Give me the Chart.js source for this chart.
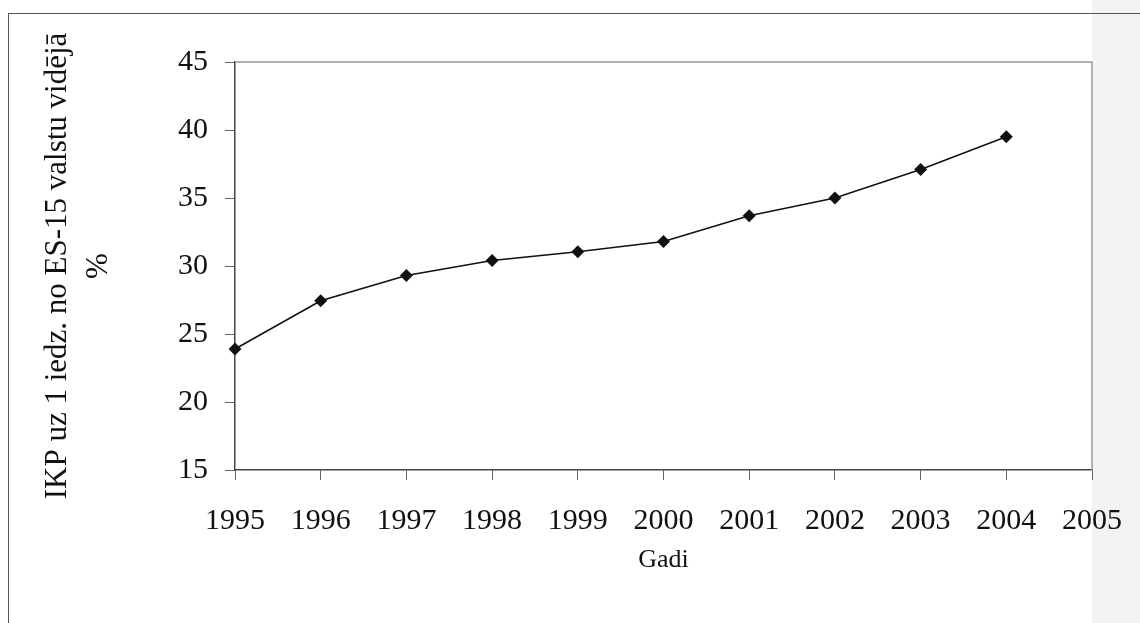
<!DOCTYPE html>
<html>
<head>
<meta charset="utf-8">
<script src="https://cdn.jsdelivr.net/npm/chart.js@4/dist/chart.umd.min.js"></script>
<style>
  html, body { margin: 0; padding: 0; background: #fff; }
  #wrap { position: relative; width: 1140px; height: 623px; overflow: hidden; }
  #strip { position: absolute; left: 1092px; top: 0; width: 48px; height: 623px; background: #f3f3f3; }
  #frame { position: absolute; left: 8px; top: 13px; width: 1132px; height: 610px;
           border-top: 1.5px solid #555; border-left: 1.5px solid #555; }
  #chart { position: absolute; left: 0; top: 0; }
</style>
</head>
<body>
<div id="wrap">
  <div id="strip"></div>
  <div id="frame"></div>
  <canvas id="chart" width="1140" height="623"></canvas>
</div>
<script>
const years = ['1995', '1996', '1997', '1998', '1999', '2000', '2001', '2002', '2003', '2004', '2005'];
const gdpShare = [23.9, 27.45, 29.3, 30.4, 31.05, 31.8, 33.7, 35.0, 37.1, 39.5];
const yTicks = [15, 20, 25, 30, 35, 40, 45];
const yTitle = ['IKP uz 1 iedz. no ES-15 valstu vidējā', '%'];
const xTitle = 'Gadi';

const serif = '"Liberation Serif", "Times New Roman", serif';

// top and right edges of the plot box
const boxEdges = {
  id: 'boxEdges',
  afterDraw(chart) {
    const { ctx, chartArea: a } = chart;
    ctx.save();
    ctx.strokeStyle = '#999';
    ctx.lineWidth = 1.5;
    ctx.beginPath();
    ctx.moveTo(a.left, a.top);
    ctx.lineTo(a.right, a.top);
    ctx.lineTo(a.right, a.bottom);
    ctx.stroke();
    ctx.restore();
  }
};

const ctx = document.getElementById('chart').getContext('2d');
new Chart(ctx, {
  type: 'line',
  data: {
    labels: years,
    datasets: [{
      data: gdpShare,
      borderColor: '#111',
      borderWidth: 1.6,
      backgroundColor: '#111',
      pointStyle: 'rectRot',
      pointRadius: 6.5,
      pointBorderWidth: 0,
      tension: 0,
      fill: false
    }]
  },
  options: {
    responsive: false,
    animation: false,
    events: [],
    layout: { padding: { left: 0, top: 62, right: 48, bottom: 43 } },
    plugins: { legend: { display: false }, tooltip: { enabled: false } },
    scales: {
      x: {
        offset: false,
        afterFit(scale) {
          scale.height = 110;
          scale.paddingLeft = 0;
          scale.paddingRight = 0;
        },
        grid: { drawOnChartArea: false, drawTicks: true, tickLength: 10, color: '#666' },
        border: { display: true, color: '#444', width: 1.5 },
        ticks: { color: '#111', padding: 23, maxRotation: 0, autoSkip: false,
                 font: { family: serif, size: 30 } },
        title: { display: true, text: xTitle, color: '#111',
                 font: { family: serif, size: 26 }, padding: { top: 0, bottom: 4 } }
      },
      y: {
        min: 15,
        max: 45,
        afterFit(scale) { scale.width = 235; },
        afterBuildTicks(scale) { scale.ticks = yTicks.map(v => ({ value: v })); },
        grid: { drawOnChartArea: false, drawTicks: true, tickLength: 10, color: '#666' },
        border: { display: true, color: '#444', width: 1.5 },
        ticks: { color: '#111', padding: 17, font: { family: serif, size: 30 } },
        title: { display: true, text: yTitle, color: '#111',
                 font: { family: serif, size: 31, lineHeight: 1.3 },
                 padding: { top: 38, bottom: 0 } }
      }
    }
  },
  plugins: [boxEdges]
});
</script>
</body>
</html>
